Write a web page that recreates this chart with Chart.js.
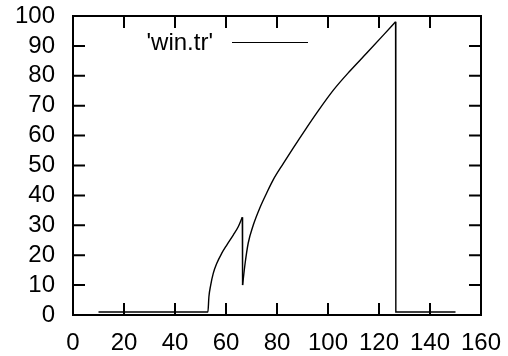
<!DOCTYPE html>
<html>
<head>
<meta charset="utf-8">
<script src="https://cdn.jsdelivr.net/npm/chart.js@4/dist/chart.umd.min.js"></script>
<style>
html,body{margin:0;padding:0;background:#fff;}
canvas{display:block;}
</style>
</head>
<body>
<canvas id="c" width="508" height="356"></canvas>
<script>
// Data
const seriesLabel = "'win.tr'";
const xValues = [10, 52.9, 53.3, 54.0, 55.0, 56.4, 58.3, 60.3, 62.9, 64.8, 66.4, 66.5, 67.5, 68.7, 70.7, 73.3, 76.0, 78.5, 82.5, 86.4, 91.6, 95.6, 102.1, 108.6, 115.2, 121.7, 126.5, 126.6, 150];
const yValues = [1, 1, 6.1, 10, 13.9, 17.3, 20.6, 23.4, 26.8, 29.5, 32.7, 10, 17.3, 24, 30.1, 35.9, 40.9, 45.2, 50.7, 55.9, 62.6, 67.6, 75.2, 81.6, 87.6, 93.6, 98.1, 1, 1];
// indices where the series drops vertically (segment ends)
const dropStarts = [10, 26];
const xTicks = [0, 20, 40, 60, 80, 100, 120, 140, 160];
const yTicks = [0, 10, 20, 30, 40, 50, 60, 70, 80, 90, 100];

const pts = xValues.map((x, i) => ({x: x, y: yValues[i]}));
// smooth rising parts, straight vertical drops
const pieces = [
  {data: pts.slice(0, dropStarts[0] + 1), smooth: true},
  {data: pts.slice(dropStarts[0], dropStarts[0] + 2), smooth: false},
  {data: pts.slice(dropStarts[0] + 1, dropStarts[1] + 1), smooth: true},
  {data: pts.slice(dropStarts[1]), smooth: false}
];
const FONT = '"Liberation Sans", Arial, Helvetica, sans-serif';

const framePlugin = {
  id: 'frame',
  afterDraw(chart) {
    const ctx = chart.ctx;
    const a = chart.chartArea;
    const xs = chart.scales.x, ys = chart.scales.y;
    const tl = 12;
    ctx.save();
    ctx.strokeStyle = '#000';
    ctx.lineWidth = 2;
    ctx.beginPath();
    xTicks.forEach(v => {
      const px = xs.getPixelForValue(v);
      ctx.moveTo(px, a.bottom); ctx.lineTo(px, a.bottom - tl);
      ctx.moveTo(px, a.top); ctx.lineTo(px, a.top + tl);
    });
    yTicks.forEach(v => {
      const py = ys.getPixelForValue(v);
      ctx.moveTo(a.left, py); ctx.lineTo(a.left + tl, py);
      ctx.moveTo(a.right, py); ctx.lineTo(a.right - tl, py);
    });
    ctx.stroke();
    ctx.strokeRect(a.left, a.top, a.right - a.left, a.bottom - a.top);
    // legend: text then line sample
    ctx.font = '24px ' + FONT;
    ctx.fillStyle = '#000';
    ctx.textAlign = 'right';
    ctx.textBaseline = 'middle';
    ctx.fillText(chart.data.datasets[0].label, 213, 43);
    ctx.lineWidth = 1;
    ctx.beginPath();
    ctx.moveTo(232, 42.5); ctx.lineTo(308, 42.5);
    ctx.stroke();
    ctx.restore();
  }
};

new Chart(document.getElementById('c'), {
  type: 'scatter',
  data: {
    datasets: pieces.map(p => ({
      label: seriesLabel,
      data: p.data,
      showLine: true,
      borderColor: '#000',
      borderWidth: 1.4,
      pointRadius: 0,
      cubicInterpolationMode: p.smooth ? 'monotone' : 'default',
      tension: 0,
      fill: false
    }))
  },
  options: {
    responsive: false,
    animation: false,
    devicePixelRatio: 1,
    layout: {padding: {top: 16, right: 27, left: 0, bottom: 0}},
    plugins: {legend: {display: false}, tooltip: {enabled: false}},
    scales: {
      x: {
        type: 'linear', min: 0, max: 160,
        afterBuildTicks: s => { s.ticks = xTicks.map(v => ({value: v})); },
        afterFit: s => { s.height = 41; s.paddingLeft = 0; s.paddingRight = 0; },
        grid: {display: false, drawTicks: false},
        border: {display: false},
        ticks: {color: '#000', font: {family: FONT, size: 24}, padding: 14, maxRotation: 0, autoSkip: false}
      },
      y: {
        type: 'linear', min: 0, max: 100,
        afterBuildTicks: s => { s.ticks = yTicks.map(v => ({value: v})); },
        afterFit: s => { s.width = 73; s.paddingTop = 0; s.paddingBottom = 0; },
        grid: {display: false, drawTicks: false},
        border: {display: false},
        ticks: {color: '#000', font: {family: FONT, size: 24}, padding: 18, autoSkip: false}
      }
    }
  },
  plugins: [framePlugin]
});
</script>
</body>
</html>
